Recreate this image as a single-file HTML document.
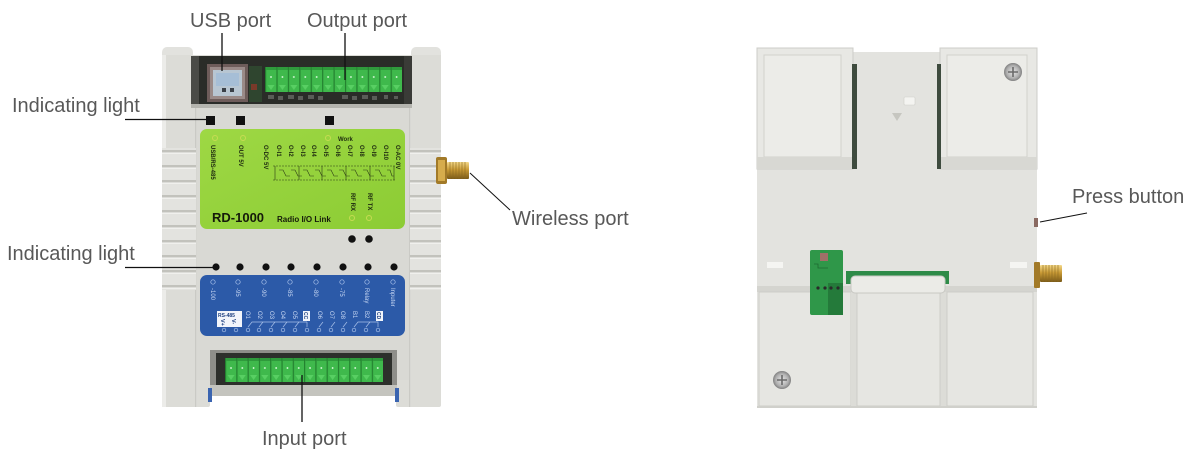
<!DOCTYPE html>
<html><head><meta charset="utf-8"><style>
html,body{margin:0;padding:0;background:#fff;}
svg{display:block;}
</style></head><body>
<svg width="1200" height="458" viewBox="0 0 1200 458" xmlns="http://www.w3.org/2000/svg" font-family="'Liberation Sans', sans-serif">
<defs>
  <pattern id="conTop" patternUnits="userSpaceOnUse" x="265" y="67" width="11.42" height="25">
    <rect width="11.42" height="25" fill="#3fb94c"/>
    <rect width="1.2" height="25" fill="#23802f"/>
    <rect x="1.2" width="10.2" height="3" fill="#2f9a3c"/>
    <circle cx="6" cy="10" r="0.9" fill="#e8ffe8"/>
    <path d="M2.5 18 L9.5 18 L6 23 Z" fill="#58cf63"/>
  </pattern>
  <pattern id="conBot" patternUnits="userSpaceOnUse" x="225" y="358" width="11.29" height="24">
    <rect width="11.29" height="24" fill="#3fb94c"/>
    <rect width="1.2" height="24" fill="#23802f"/>
    <rect x="1.2" width="10.1" height="3" fill="#2f9a3c"/>
    <circle cx="6" cy="10" r="0.9" fill="#e8ffe8"/>
    <path d="M2.5 17 L9.5 17 L6 22 Z" fill="#58cf63"/>
  </pattern>
  <pattern id="ribs" patternUnits="userSpaceOnUse" x="0" y="150" width="40" height="15">
    <rect width="40" height="15" fill="#e3e3df"/>
    <rect y="0" width="40" height="2.5" fill="#c2c2bc"/>
    <rect y="2.5" width="40" height="1.2" fill="#f6f6f3"/>
  </pattern>
  <linearGradient id="gold" x1="0" y1="0" x2="0" y2="1">
    <stop offset="0" stop-color="#f4d98a"/>
    <stop offset="0.45" stop-color="#c99a35"/>
    <stop offset="1" stop-color="#7a5a18"/>
  </linearGradient>
  <linearGradient id="greenp" x1="0" y1="0" x2="1" y2="1">
    <stop offset="0" stop-color="#9ed844"/>
    <stop offset="1" stop-color="#8ccc34"/>
  </linearGradient>
  <radialGradient id="screw">
    <stop offset="0" stop-color="#e8e8e8"/>
    <stop offset="0.7" stop-color="#b0b0b0"/>
    <stop offset="1" stop-color="#808080"/>
  </radialGradient>
</defs>

<!-- ================= FRONT DEVICE ================= -->
<rect x="162" y="47" width="31" height="30" rx="5" fill="#e2e2de"/>
<rect x="411" y="47" width="30" height="30" rx="5" fill="#e2e2de"/>
<rect x="162" y="55" width="279" height="340" fill="#dcdcd7"/>
<rect x="196" y="108" width="213" height="287" fill="#d9d9d4"/>
<rect x="162" y="380" width="48" height="27" rx="2" fill="#dcdcd7"/>
<rect x="396" y="380" width="45" height="27" rx="2" fill="#dcdcd7"/>
<rect x="162" y="55" width="4" height="352" fill="#ececE9"/>
<rect x="195" y="60" width="1.2" height="347" fill="#cacac5"/>
<rect x="409" y="60" width="1.2" height="347" fill="#cacac5"/>
<!-- ribs -->
<rect x="162" y="148" width="34" height="142" fill="url(#ribs)"/>
<rect x="410" y="148" width="31" height="142" fill="url(#ribs)"/>
<!-- top recess -->
<rect x="191" y="56" width="221" height="51" fill="#2a2c28"/>
<rect x="191" y="56" width="8" height="51" fill="#4a4b47"/>
<rect x="404" y="56" width="8" height="51" fill="#3a3b37"/>
<rect x="191" y="104" width="221" height="4" fill="#b4b4ae"/>
<!-- USB port -->
<rect x="207" y="64" width="41" height="38" fill="#6e5c5a"/>
<rect x="210" y="67" width="35" height="32" fill="#9a8a88"/>
<rect x="213" y="70" width="29" height="26" fill="#b8c6d2"/>
<rect x="216" y="73" width="23" height="13" fill="#a6bed6"/>
<rect x="222" y="88" width="4" height="4" fill="#3a4048"/>
<rect x="230" y="88" width="4" height="4" fill="#3a4048"/>
<rect x="249" y="66" width="13" height="36" fill="#2f452f"/>
<rect x="251" y="84" width="6" height="6" fill="#7a3a2a"/>
<rect x="265" y="67" width="137" height="25" fill="url(#conTop)"/>
<g fill="#5a5d58">
<rect x="268" y="95" width="6" height="4"/><rect x="278" y="96" width="5" height="4"/><rect x="288" y="95" width="6" height="4"/>
<rect x="298" y="96" width="5" height="4"/><rect x="308" y="95" width="6" height="4"/><rect x="318" y="96" width="5" height="4"/>
<rect x="342" y="95" width="6" height="4"/><rect x="352" y="96" width="5" height="4"/><rect x="362" y="95" width="6" height="4"/>
<rect x="372" y="96" width="5" height="4"/><rect x="384" y="95" width="4" height="4"/><rect x="394" y="96" width="4" height="3"/>
</g>
<rect x="206" y="116" width="9" height="9" fill="#111"/>
<rect x="236" y="116" width="9" height="9" fill="#111"/>
<rect x="325" y="116" width="9" height="9" fill="#111"/>

<!-- green panel -->
<rect x="200" y="129" width="205" height="100" rx="7" fill="url(#greenp)"/>
<g fill="none" stroke="#c6dc52" stroke-width="1">
<circle cx="215" cy="138" r="2.5"/><circle cx="243" cy="138" r="2.5"/><circle cx="328" cy="138" r="2.5"/>
<circle cx="352" cy="218" r="2.5"/><circle cx="369" cy="218" r="2.5"/>
</g>
<g font-size="6" font-weight="bold" fill="#1e2a10">
<text x="338" y="141">Work</text>
<text transform="translate(211,145) rotate(90)">USB/RS-485</text>
<text transform="translate(239,145) rotate(90)">OUT  5V</text>
<text transform="translate(264,145) rotate(90)">O-DC 5V</text>
<text transform="translate(277,145) rotate(90)">O-I1</text>
<text transform="translate(289,145) rotate(90)">O-I2</text>
<text transform="translate(301,145) rotate(90)">O-I3</text>
<text transform="translate(312,145) rotate(90)">O-I4</text>
<text transform="translate(324,145) rotate(90)">O-I5</text>
<text transform="translate(336,145) rotate(90)">O-I6</text>
<text transform="translate(348,145) rotate(90)">O-I7</text>
<text transform="translate(360,145) rotate(90)">O-I8</text>
<text transform="translate(372,145) rotate(90)">O-I9</text>
<text transform="translate(384,145) rotate(90)">O-I10</text>
<text transform="translate(396,145) rotate(90)">O-AC 0V</text>
<text transform="translate(351,193) rotate(90)">RF RX</text>
<text transform="translate(368,193) rotate(90)">RF TX</text>
</g>
<g stroke="#2a3a14" stroke-width="0.6" fill="none">
<line x1="273" y1="166" x2="396" y2="166" stroke-dasharray="2,1"/>
<line x1="273" y1="180" x2="396" y2="180" stroke-dasharray="2,1"/>
<path d="M275 166v14M299 166v14M322 166v14M346 166v14M370 166v14M394 166v14"/>
<path d="M279 170h4l3 6h4M291 170h4l3 6h4M303 170h4l3 6h4M315 170h4l3 6h4M327 170h4l3 6h4M339 170h4l3 6h4M351 170h4l3 6h4M363 170h4l3 6h4M375 170h4l3 6h4M387 170h3l2 6h2"/>
</g>
<text x="212" y="222" font-size="13" font-weight="bold" fill="#151a0a">RD-1000</text>
<text x="277" y="222" font-size="8" font-weight="bold" fill="#151a0a">Radio I/O Link</text>

<!-- antenna front -->
<rect x="436" y="157" width="11" height="27" rx="2" fill="#a27a28"/>
<rect x="438" y="160" width="7" height="21" fill="#d6ac4c"/>
<rect x="447" y="162" width="22" height="17" rx="1" fill="url(#gold)"/>
<g stroke="#8a6a22" stroke-width="0.6"><path d="M450 162v17M453 162v17M456 162v17M459 162v17M462 162v17M465 162v17"/></g>

<g fill="#111">
<circle cx="352" cy="239" r="3.8"/><circle cx="369" cy="239" r="3.8"/>
<circle cx="216" cy="267" r="3.6"/><circle cx="240" cy="267" r="3.6"/><circle cx="266" cy="267" r="3.6"/>
<circle cx="291" cy="267" r="3.6"/><circle cx="317" cy="267" r="3.6"/><circle cx="343" cy="267" r="3.6"/>
<circle cx="368" cy="267" r="3.6"/><circle cx="394" cy="267" r="3.6"/>
</g>

<!-- blue panel -->
<rect x="200" y="275" width="205" height="61" rx="7" fill="#2c5aa8"/>
<g fill="none" stroke="#aac2ea" stroke-width="0.7">
<circle cx="213" cy="282" r="2.2"/><circle cx="238" cy="282" r="2.2"/><circle cx="264" cy="282" r="2.2"/><circle cx="290" cy="282" r="2.2"/>
<circle cx="316" cy="282" r="2.2"/><circle cx="342" cy="282" r="2.2"/><circle cx="367" cy="282" r="2.2"/><circle cx="393" cy="282" r="2.2"/>
</g>
<g font-size="6" fill="#c6d6f2">
<text transform="translate(211,288) rotate(90)">-100</text>
<text transform="translate(236,288) rotate(90)">-95</text>
<text transform="translate(262,288) rotate(90)">-90</text>
<text transform="translate(288,288) rotate(90)">-85</text>
<text transform="translate(314,288) rotate(90)">-80</text>
<text transform="translate(340,288) rotate(90)">-75</text>
<text transform="translate(365,288) rotate(90)">Relay</text>
<text transform="translate(391,288) rotate(90)">Inputer</text>
<text transform="translate(246,311) rotate(90)">O1</text>
<text transform="translate(258,311) rotate(90)">O2</text>
<text transform="translate(270,311) rotate(90)">O3</text>
<text transform="translate(281,311) rotate(90)">O4</text>
<text transform="translate(293,311) rotate(90)">O5</text>
<text transform="translate(318,311) rotate(90)">O6</text>
<text transform="translate(330,311) rotate(90)">O7</text>
<text transform="translate(341,311) rotate(90)">O8</text>
<text transform="translate(353,311) rotate(90)">B1</text>
<text transform="translate(365,311) rotate(90)">B2</text>
</g>
<rect x="217" y="311" width="25" height="16" fill="#f2f5fb"/>
<text x="218" y="317" font-size="5" font-weight="bold" fill="#1c3f80">RS-485</text>
<text transform="translate(221,319) rotate(90)" font-size="5.5" font-weight="bold" fill="#1c3f80">V+</text>
<text transform="translate(232,319) rotate(90)" font-size="5.5" font-weight="bold" fill="#1c3f80">V-</text>
<rect x="303" y="311" width="7" height="10" fill="#f2f5fb"/>
<text transform="translate(304,312) rotate(90)" font-size="5" font-weight="bold" fill="#1c3f80">CC</text>
<rect x="376" y="311" width="7" height="10" fill="#f2f5fb"/>
<text transform="translate(377,312) rotate(90)" font-size="5" font-weight="bold" fill="#1c3f80">CD</text>
<g fill="none" stroke="#a8c0e8" stroke-width="0.7">
<circle cx="224" cy="330" r="1.8"/><circle cx="236" cy="330" r="1.8"/><circle cx="248" cy="330" r="1.8"/><circle cx="259" cy="330" r="1.8"/>
<circle cx="271" cy="330" r="1.8"/><circle cx="283" cy="330" r="1.8"/><circle cx="295" cy="330" r="1.8"/><circle cx="307" cy="330" r="1.8"/>
<circle cx="319" cy="330" r="1.8"/><circle cx="331" cy="330" r="1.8"/><circle cx="343" cy="330" r="1.8"/><circle cx="354" cy="330" r="1.8"/>
<circle cx="366" cy="330" r="1.8"/><circle cx="378" cy="330" r="1.8"/>
<path d="M248 327l4-5h55M259 327l4-5M271 327l4-5M283 327l4-5M295 327l4-5M307 322v5M319 327l4-5M331 327l4-5M343 327l4-5"/>
<path d="M354 327l4-5h20v5M366 327l4-5"/>
</g>

<!-- bottom recess -->
<rect x="210" y="350" width="187" height="46" fill="#8e8e89"/>
<rect x="216" y="353" width="176" height="32" fill="#2d2f2b"/>
<rect x="210" y="385" width="187" height="11" fill="#c4c4be"/>
<rect x="225" y="358" width="158" height="24" fill="url(#conBot)"/>
<rect x="208" y="388" width="4" height="14" fill="#3a64b0"/>
<rect x="395" y="388" width="4" height="14" fill="#3a64b0"/>

<!-- ================= BACK DEVICE ================= -->
<rect x="757" y="52" width="280" height="356" fill="#e3e3df"/>
<rect x="757" y="48" width="96" height="121" fill="#e8e8e4" stroke="#cdcdc8"/>
<rect x="764" y="55" width="77" height="102" fill="#ececE8" stroke="#d2d2cd"/>
<rect x="757" y="157" width="96" height="12" fill="#d8d8d3"/>
<rect x="940" y="48" width="97" height="121" fill="#e8e8e4" stroke="#cdcdc8"/>
<rect x="947" y="55" width="80" height="102" fill="#ececE8" stroke="#d2d2cd"/>
<rect x="940" y="157" width="97" height="12" fill="#d8d8d3"/>
<rect x="852" y="64" width="5" height="105" fill="#3e4b3e"/>
<rect x="937" y="64" width="4" height="105" fill="#3e4b3e"/>
<rect x="904" y="97" width="11" height="8" rx="1" fill="#f4f4f1" stroke="#cfcfca" stroke-width="0.6"/>
<path d="M892 113 L902 113 L897 121 Z" fill="#c6c6c0"/>
<circle cx="1013" cy="72" r="9" fill="url(#screw)"/>
<path d="M1008 72h10M1013 67v10" stroke="#6a6a6a" stroke-width="1.6"/>
<rect x="767" y="262" width="16" height="6" fill="#f5f5f2"/>
<rect x="1010" y="262" width="17" height="6" fill="#f5f5f2"/>
<!-- ledge & bottom tabs -->
<rect x="757" y="286" width="280" height="6" fill="#d4d4cf"/>
<rect x="759" y="292" width="92" height="114" fill="#e6e6e2" stroke="#cdcdc8"/>
<rect x="851" y="292" width="96" height="114" fill="#dcdcd7"/>
<rect x="857" y="292" width="83" height="114" fill="#e6e6e2" stroke="#cdcdc8"/>
<rect x="947" y="292" width="86" height="114" fill="#e6e6e2" stroke="#cdcdc8"/>
<rect x="757" y="406" width="280" height="2" fill="#d0d0cb"/>
<!-- green strip & middle lip -->
<rect x="846" y="271" width="103" height="13" fill="#2e8b48"/>
<rect x="851" y="276" width="94" height="17" rx="4" fill="#ebebe7" stroke="#c8c8c3"/>
<!-- PCB -->
<rect x="810" y="250" width="33" height="65" rx="2" fill="#2f9749"/>
<rect x="828" y="283" width="15" height="32" fill="#247a3a"/>
<rect x="820" y="253" width="8" height="8" fill="#a07068"/>
<g fill="#2a2a2a"><circle cx="818" cy="288" r="1.6"/><circle cx="825" cy="288" r="1.6"/><circle cx="831" cy="288" r="1.6"/><circle cx="838" cy="288" r="1.6"/></g>
<path d="M814 264h4v4h10" stroke="#1d6a30" stroke-width="0.8" fill="none"/>
<circle cx="782" cy="380" r="9" fill="url(#screw)"/>
<path d="M777 380h10M782 375v10" stroke="#6a6a6a" stroke-width="1.6"/>
<!-- press button & antenna -->
<rect x="1034" y="218" width="4" height="9" fill="#8a6a62"/>
<rect x="1034" y="262" width="6" height="26" rx="1" fill="#a27a28"/>
<rect x="1040" y="265" width="22" height="17" rx="1" fill="url(#gold)"/>
<g stroke="#8a6a22" stroke-width="0.6"><path d="M1043 265v17M1046 265v17M1049 265v17M1052 265v17M1055 265v17M1058 265v17"/></g>

<!-- ================= LABELS ================= -->
<g stroke="#111" stroke-width="1.3" fill="none">
<line x1="222" y1="33" x2="222" y2="71"/>
<line x1="345" y1="33" x2="345" y2="80"/>
<line x1="125" y1="119.5" x2="207" y2="119.5"/>
<line x1="125" y1="267.5" x2="213" y2="267.5"/>
<line x1="470" y1="173" x2="510" y2="210" stroke-width="1"/>
<line x1="302" y1="375" x2="302" y2="422"/>
<line x1="1040" y1="222" x2="1087" y2="213" stroke-width="1"/>
</g>
<g font-size="20" fill="#585858">
<text x="190" y="27">USB port</text>
<text x="307" y="27">Output port</text>
<text x="12" y="112">Indicating light</text>
<text x="7" y="260">Indicating light</text>
<text x="512" y="225">Wireless port</text>
<text x="262" y="445">Input port</text>
<text x="1072" y="203">Press button</text>
</g>
</svg>
</body></html>
